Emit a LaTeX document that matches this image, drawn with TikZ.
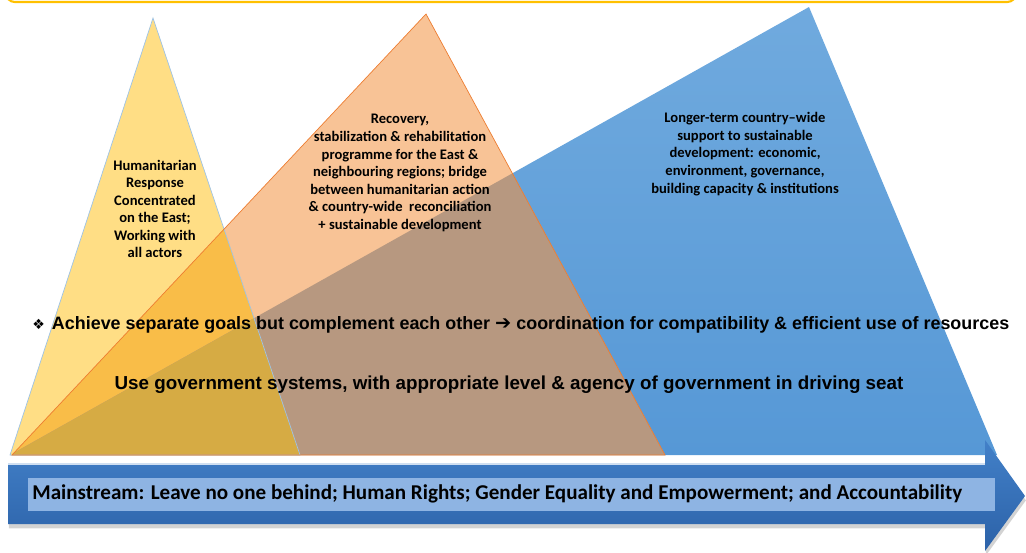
\documentclass[tikz,border=0pt]{standalone}
\usepackage{fontspec}
\setmainfont{Carlito}
\newfontfamily\arialfont{Liberation Sans}
\newfontfamily\symfont{DejaVu Sans}
\usepackage{tikz}
\usetikzlibrary{shadows}
\definecolor{gold}{RGB}{255,192,0}
\definecolor{yell}{RGB}{255,222,133}
\definecolor{oran}{RGB}{248,195,150}
\definecolor{blutop}{RGB}{112,170,222}
\definecolor{blubot}{RGB}{86,152,214}
\definecolor{yo}{RGB}{249,189,72}
\definecolor{ob}{RGB}{183,152,128}
\definecolor{yob}{RGB}{214,171,68}
\definecolor{yline}{RGB}{157,195,230}
\definecolor{oline}{RGB}{237,125,49}
\definecolor{arrtop}{RGB}{66,128,200}
\definecolor{arrbot}{RGB}{44,98,168}
\definecolor{band}{RGB}{142,180,227}
\tikzstyle{tritext} = [align=center, text=black, font=\bfseries\fontsize{8.3}{10}\selectfont]
\tikzstyle{goaltext} = [text=black, inner sep=0pt, font=\arialfont\bfseries\fontsize{10.2}{12}\selectfont]
\tikzstyle{banner} = [text=black, inner sep=0pt, font=\bfseries\fontsize{12}{14}\selectfont]

\begin{document}
\begin{tikzpicture}[x=0.02cm, y=-0.02cm]
\useasboundingbox (0,0) rectangle (1026,552);

% top box, only its lower edge shows
\draw [draw=gold, line width=1.2pt, fill=white, rounded corners=5pt] (6,-40) rectangle (1016,2);

% corners of the three triangles
\coordinate (yA) at (153,18);
\coordinate (yB) at (10,455);
\coordinate (yC) at (300,455);
\coordinate (oA) at (426,14);
\coordinate (oB) at (12,455);
\coordinate (oC) at (665,455);
\coordinate (bA) at (809,7);
\coordinate (bB) at (10,455);
\coordinate (bC) at (997,455);

\shade [top color=blutop, bottom color=blubot] (bA) -- (bB) -- (bC) -- cycle;
\fill [oran] (oA) -- (oB) -- (oC) -- cycle;
\fill [yell] (yA) -- (yB) -- (yC) -- cycle;
\begin{scope}
  \clip (yA) -- (yB) -- (yC) -- cycle;
  \fill [yo] (oA) -- (oB) -- (oC) -- cycle;
\end{scope}
\begin{scope}
  \clip (oA) -- (oB) -- (oC) -- cycle;
  \fill [ob] (bA) -- (bB) -- (bC) -- cycle;
\end{scope}
\begin{scope}
  \clip (yA) -- (yB) -- (yC) -- cycle;
  \clip (oA) -- (oB) -- (oC) -- cycle;
  \fill [yob] (bA) -- (bB) -- (bC) -- cycle;
\end{scope}
\draw [yline, line width=0.4pt] (yA) -- (yB) -- (yC) -- cycle;
\draw [oline, line width=0.4pt] (oA) -- (oB) -- (oC) -- cycle;

\node (human) [tritext] at (155,209) {Humanitarian\\Response\\Concentrated\\on the East;\\Working with\\all actors};
\node (recov) [tritext] at (400,173) {Recovery,\\stabilization \& rehabilitation\\programme for the East \&\\neighbouring regions; bridge\\between humanitarian action\\\& country-wide~ reconciliation\\+ sustainable development};
\node (longer) [tritext] at (745,154) {Longer-term country--wide\\support to sustainable\\development: economic,\\environment, governance,\\building capacity \& institutions};

\node (goals) [goaltext, anchor=west] at (32,325) {{\symfont\fontsize{8}{9}\selectfont ❖}\hspace{4pt}Achieve separate goals but complement each other {\symfont\fontsize{11}{12}\selectfont ➔} coordination for compatibility \& efficient use of resources};
\node (govsys) [goaltext, font=\arialfont\bfseries\fontsize{10.7}{12}\selectfont] at (509,385) {Use government systems, with appropriate level \& agency of government in driving seat};

% mainstream arrow
\shade [top color=arrtop, bottom color=arrbot, drop shadow={opacity=0.35, shadow xshift=0.5pt, shadow yshift=-2.5pt}]
  (8,463) -- (985,463) -- (985,440) -- (1025,496) -- (985,551) -- (985,524) -- (8,524) -- cycle;
\draw [white!75!arrtop, line width=0.8pt] (8,464) -- (985,464);
\fill [band] (28,478) rectangle (995,511);
\node (mainstream) [banner, anchor=west] at (32,494) {Mainstream: Leave no one behind; Human Rights; Gender Equality and Empowerment; and Accountability};
\end{tikzpicture}
\end{document}
